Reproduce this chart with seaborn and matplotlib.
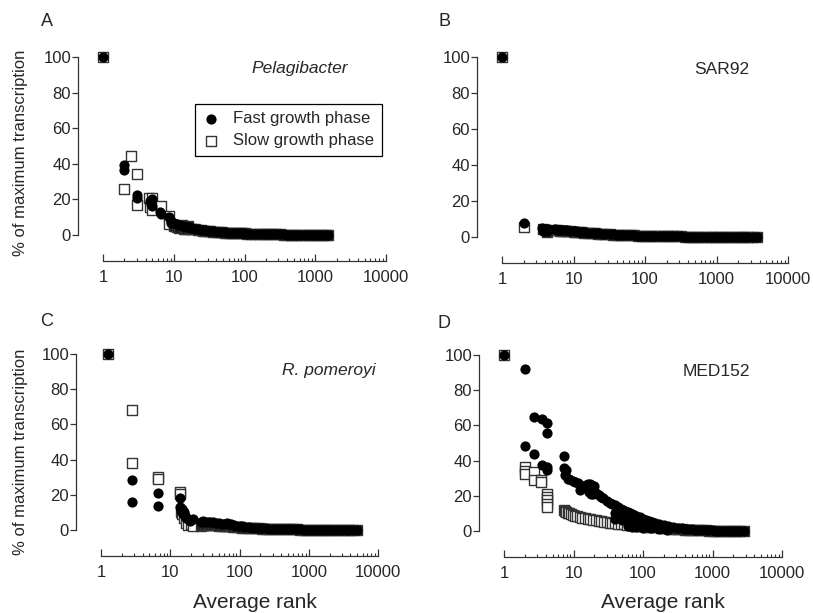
import matplotlib.pyplot as plt
import seaborn as sns
from matplotlib.ticker import NullFormatter

# estilo base, fuente tipo Arial
sns.set_style('ticks')
plt.rcParams['font.family'] = ['Liberation Sans', 'DejaVu Sans']

# --- datos: rango medio vs % de transcripcion maxima ---
# A: Pelagibacter (cabeza = puntos sueltos, cola = banda densa)
a_fast_head_rank = [1, 2, 2, 3, 3, 4.6, 4.8, 5, 5, 6.3, 6.6, 8.5, 9, 9]
a_fast_head_pct = [100, 39.5, 36.5, 22.5, 21, 19, 17.5, 20, 16.5, 13, 12, 10, 8, 6.5]
a_slow_head_rank = [1, 2, 2.5, 3, 3, 4.5, 5, 4.6, 5, 6.5, 8.5, 8.5]
a_slow_head_pct = [100, 26, 44.5, 34, 17, 21, 21, 16, 14, 16.5, 10.5, 6]
a_tail_rank = [10, 11, 12, 13, 14, 15, 16, 17, 18, 20,
               22, 24, 26, 28, 30, 33, 36, 40, 44, 48,
               53, 58, 64, 70, 77, 85, 93, 100, 110, 125,
               140, 160, 180, 200, 225, 250, 280, 320, 360, 400,
               450, 500, 560, 630, 710, 800, 900, 1000, 1120, 1260,
               1410, 1500]
a_fast_tail_pct = [6.5, 6.0, 5.6, 5.2, 4.9, 4.6, 4.4, 4.2, 4.0, 3.6,
                   3.3, 3.0, 2.8, 2.6, 2.4, 2.2, 2.0, 1.9, 1.7, 1.6,
                   1.5, 1.4, 1.3, 1.2, 1.1, 1.0, 0.95, 0.9, 0.8, 0.75,
                   0.7, 0.62, 0.55, 0.5, 0.45, 0.4, 0.36, 0.32, 0.29, 0.26,
                   0.23, 0.2, 0.18, 0.16, 0.14, 0.12, 0.1, 0.08, 0.06, 0.04,
                   0.02, 0.01]
a_slow_tail_pct = [5.0, 4.5, 4.0, 5.5, 3.5, 3.6, 5.0, 3.4, 3.5, 3.2,
                   2.9, 2.7, 2.5, 2.3, 2.1, 2.0, 1.8, 1.7, 1.6, 1.5,
                   1.4, 1.3, 1.2, 1.1, 1.0, 0.95, 0.9, 0.85, 0.75, 0.7,
                   0.65, 0.58, 0.52, 0.47, 0.42, 0.38, 0.34, 0.3, 0.27, 0.24,
                   0.21, 0.19, 0.17, 0.15, 0.13, 0.11, 0.09, 0.07, 0.05, 0.03,
                   0.02, 0.01]

# B: SAR92
b_fast_head_rank = [1, 2, 3.6, 4, 4.4, 3.8, 4.2]
b_fast_head_pct = [100, 7.7, 4.8, 4.5, 4.2, 3.2, 3.6]
b_slow_head_rank = [1, 2]
b_slow_head_pct = [100, 5.3]
b_slow_block_rank = [3.7, 4.1, 4.3]
b_slow_block_pct = [4.5, 4.0, 3.0]
b_tail_rank = [5.5, 6, 6.5, 7, 7.5, 8, 9, 10, 11, 12,
               13, 14, 16, 18, 20, 22, 25, 28, 32, 36,
               40, 45, 50, 56, 63, 70, 80, 90, 100, 112,
               125, 140, 160, 180, 200, 225, 250, 280, 320, 360,
               400, 450, 500, 560, 630, 710, 800, 900, 1000, 1120,
               1260, 1410, 1600, 1800, 2000, 2250, 2500, 2800, 3200, 3700]
b_fast_tail_pct = [4.2, 4.1, 4.0, 3.9, 3.8, 3.7, 3.5, 3.3, 3.1, 3.0,
                   2.8, 2.7, 2.5, 2.3, 2.1, 2.0, 1.85, 1.7, 1.55, 1.45,
                   1.35, 1.25, 1.15, 1.05, 0.95, 0.9, 0.8, 0.75, 0.7, 0.65,
                   0.6, 0.55, 0.5, 0.45, 0.42, 0.38, 0.35, 0.32, 0.29, 0.27,
                   0.25, 0.22, 0.2, 0.18, 0.16, 0.15, 0.13, 0.11, 0.1, 0.09,
                   0.08, 0.07, 0.06, 0.05, 0.04, 0.03, 0.02, 0.015, 0.01, 0]
b_slow_tail_pct = [3.8, 3.7, 3.6, 3.5, 3.4, 3.3, 3.1, 2.9, 2.8, 2.7,
                   2.6, 2.5, 2.3, 2.1, 2.0, 1.85, 1.7, 1.55, 1.4, 1.3,
                   1.2, 1.1, 1.0, 0.95, 0.9, 0.85, 0.75, 0.7, 0.65, 0.6,
                   0.55, 0.5, 0.45, 0.42, 0.4, 0.36, 0.33, 0.3, 0.28, 0.25,
                   0.22, 0.2, 0.18, 0.16, 0.14, 0.13, 0.12, 0.1, 0.09, 0.08,
                   0.07, 0.06, 0.05, 0.04, 0.03, 0.025, 0.02, 0.01, 0.005, 0]

# C: R. pomeroyi
c_fast_head_rank = [1.25, 2.77, 2.77, 6.7, 6.7, 13.9, 14, 14.5, 15, 15.5,
                    16, 16.5, 17, 18, 19, 20, 21]
c_fast_head_pct = [100, 28.4, 16.1, 20.8, 13.6, 18.4, 13, 11, 12, 9,
                   10.5, 8, 7, 6, 5, 5.5, 6]
c_slow_head_rank = [1.25, 2.77, 2.77, 6.7, 6.7, 13.9, 13.9, 14.2, 15, 16,
                    17, 18, 20, 21]
c_slow_head_pct = [100, 68.2, 38.3, 30.3, 29.2, 21.8, 20.5, 10, 9, 7,
                   4, 3, 3.5, 2.5]
c_tail_rank = [28, 30, 32, 35, 38, 42, 46, 50, 55, 60,
               65, 70, 75, 80, 90, 100, 110, 120, 135, 150,
               170, 190, 210, 240, 270, 300, 340, 380, 430, 480,
               540, 600, 680, 760, 850, 950, 1070, 1200, 1350, 1500,
               1700, 1900, 2100, 2400, 2700, 3000, 3400, 3800, 4300, 5000]
c_fast_tail_pct = [4.5, 5, 4.8, 4.6, 4.5, 4.3, 4.0, 3.8, 3.5, 3.5,
                   3.8, 3.5, 3.2, 3.0, 2.5, 2.2, 2.0, 1.8, 1.6, 1.4,
                   1.25, 1.1, 1.0, 0.9, 0.8, 0.7, 0.62, 0.55, 0.5, 0.45,
                   0.4, 0.36, 0.32, 0.29, 0.26, 0.23, 0.2, 0.18, 0.16, 0.14,
                   0.12, 0.1, 0.09, 0.07, 0.06, 0.05, 0.04, 0.03, 0.02, 0.01]
c_slow_tail_pct = [2.5, 3, 2.8, 3, 2.8, 2.7, 2.6, 2.5, 2.4, 2.3,
                   2.2, 2.1, 2.0, 1.9, 1.7, 1.5, 1.4, 1.3, 1.2, 1.1,
                   1.0, 0.9, 0.85, 0.8, 0.7, 0.62, 0.55, 0.5, 0.45, 0.4,
                   0.36, 0.32, 0.29, 0.26, 0.23, 0.2, 0.18, 0.16, 0.14, 0.12,
                   0.1, 0.09, 0.08, 0.06, 0.05, 0.04, 0.03, 0.02, 0.01, 0]

# D: MED152
d_fast_head_rank = [1, 2, 2, 2.74, 2.74, 3.5, 3.5, 4.17, 4.17, 4.17,
                    4.17, 7.3, 7.3, 7.5, 7.8, 8.2, 8.7, 9.7, 10.5, 11.5,
                    12.4, 12.4, 13.5, 15, 16, 17, 18, 19.5, 16.5, 18,
                    19, 20, 21, 23, 25, 27, 30, 33, 36, 40,
                    44, 48, 52, 56, 60, 65, 70, 75, 80, 90,
                    100, 110, 120, 135, 150, 170, 200, 230, 270, 320,
                    40, 40, 50, 50, 60, 60, 60, 70, 70, 70,
                    80, 80, 80, 100, 100, 100, 130, 130, 170, 170,
                    220, 220]
d_fast_head_pct = [100, 92, 48.4, 64.5, 43.6, 63.6, 37.4, 61.5, 55.4, 36.4,
                   34.5, 42.5, 36, 31.7, 34.5, 29.8, 29.5, 28.5, 28, 27.3,
                   26.1, 23.3, 25, 26, 26.5, 26.5, 26, 25.5, 22, 21,
                   20.8, 21.5, 21.6, 20.5, 19.5, 18.5, 17, 16, 15.5, 14.5,
                   13.5, 12.5, 12, 11.5, 10.8, 10, 9.5, 9, 8.5, 7.8,
                   7, 6.4, 5.8, 5.2, 4.6, 4, 3.2, 2.7, 2.2, 1.8,
                   10, 7, 9, 6, 8, 5.5, 3, 7, 4.5, 2.5,
                   6.5, 4, 2, 5, 3, 1.5, 3.5, 1.5, 2.5, 1.2,
                   1.8, 0.8]
d_fast_tail_rank = [360, 400, 450, 500, 560, 630, 710, 800, 900, 1000,
                    1120, 1260, 1410, 1600, 1800, 2000, 2250, 2500, 2800]
d_fast_tail_pct = [1.5, 1.3, 1.1, 0.95, 0.8, 0.7, 0.6, 0.5, 0.4, 0.32,
                   0.26, 0.2, 0.15, 0.11, 0.08, 0.05, 0.03, 0.015, 0]
d_slow_head_rank = [1, 2, 2, 2, 2.74, 2.74, 3.4, 3.4, 4.17, 4.17,
                    4.17, 4.17, 4.17, 7.2, 7.5, 7.8, 8.2, 8.6, 9.2, 9.8,
                    10.5, 11.3, 12.2, 13.2, 14.5, 16, 17.5, 19, 21, 23,
                    25, 27.5, 30, 33, 36, 40, 44, 48, 53, 58]
d_slow_head_pct = [100, 36.4, 34.2, 32.3, 33.6, 28.8, 28.8, 27.9, 21.3, 19.4,
                   17.5, 15.6, 13.7, 11.8, 11.2, 10.8, 10.4, 10, 9.5, 9,
                   8.7, 8.4, 8, 7.6, 7.2, 6.9, 6.6, 6.3, 6, 5.7,
                   5.4, 5.2, 5, 4.8, 4.6, 4.4, 4.2, 4, 3.8, 3.6]
d_slow_tail_rank = [64, 70, 80, 90, 100, 112, 125, 140, 160, 180,
                    200, 225, 250, 280, 320, 360, 400, 450, 500, 560,
                    630, 710, 800, 900, 1000, 1120, 1260, 1410, 1600, 1800,
                    2000, 2250, 2500, 2800]
d_slow_tail_pct = [3.4, 3.2, 3, 2.8, 2.6, 2.45, 2.3, 2.15, 2.0, 1.8,
                   1.6, 1.45, 1.3, 1.2, 1.1, 0.95, 0.8, 0.7, 0.6, 0.52,
                   0.45, 0.38, 0.32, 0.27, 0.23, 0.19, 0.16, 0.13, 0.1, 0.08,
                   0.06, 0.04, 0.02, 0]

x_ticks = [1, 10, 100, 1000, 10000]
x_tick_labels = ['1', '10', '100', '1000', '10000']
y_ticks = [0, 20, 40, 60, 80, 100]
y_tick_labels = ['0', '20', '40', '60', '80', '100']

fast_label = 'Fast growth phase'
slow_label = 'Slow growth phase'

W, H = 813, 613
fig = plt.figure(figsize=(W / 100, H / 100), dpi=100)


def px_axes(left, top, right, bottom):
    return fig.add_axes([left / W, 1 - bottom / H, (right - left) / W, (bottom - top) / H])


def draw_panel(ax, fx, fy, sx, sy, sx_dense, sy_dense):
    # cuadrados sueltos (blancos) y zona densa, donde los miles de cuadrados se ven negros
    sns.scatterplot(x=sx, y=sy, ax=ax, marker='s', s=44, color='white',
                    edgecolor='#333333', linewidth=1.0, clip_on=False, zorder=3)
    sns.scatterplot(x=sx_dense, y=sy_dense, ax=ax, marker='s', s=44, color='#141414',
                    edgecolor='#333333', linewidth=1.0, clip_on=False, zorder=3)
    sns.scatterplot(x=fx, y=fy, ax=ax, marker='o', s=54, color='black',
                    edgecolor='black', linewidth=0, clip_on=False, zorder=4)
    ax.set_xscale('log')
    ax.set_xlim(1, 10000)
    ax.set_ylim(0, 100)
    ax.set_xticks(x_ticks)
    ax.set_xticklabels(x_tick_labels)
    ax.xaxis.set_minor_formatter(NullFormatter())
    ax.set_yticks(y_ticks)
    ax.set_yticklabels(y_tick_labels)
    ax.set_xlabel('')
    ax.set_ylabel('')
    sns.despine(ax=ax)
    ax.spines['left'].set_position(('outward', 18))
    ax.spines['bottom'].set_position(('outward', 19))
    ax.spines['left'].set_bounds(0, 100)
    ax.spines['bottom'].set_bounds(1, 10000)
    for sp in ['left', 'bottom']:
        ax.spines[sp].set_color('#333333')
        ax.spines[sp].set_linewidth(0.9)
    ax.tick_params(axis='y', direction='out', length=4, width=0.9, color='#333333',
                   labelsize=12, pad=1)
    ax.tick_params(axis='x', which='major', direction='in', length=5, width=0.9,
                   color='#333333', labelsize=12, pad=6)
    ax.tick_params(axis='x', which='minor', direction='in', length=2.5, width=0.8,
                   color='#333333')


ax_a = px_axes(103, 57, 386, 235)
ax_b = px_axes(502, 57, 788, 237)
ax_c = px_axes(101, 354, 378, 530)
ax_d = px_axes(504, 355, 782, 531)

draw_panel(ax_a, a_fast_head_rank + a_tail_rank, a_fast_head_pct + a_fast_tail_pct,
           a_slow_head_rank, a_slow_head_pct, a_tail_rank, a_slow_tail_pct)
draw_panel(ax_b, b_fast_head_rank + b_tail_rank, b_fast_head_pct + b_fast_tail_pct,
           b_slow_head_rank, b_slow_head_pct,
           b_slow_block_rank + b_tail_rank, b_slow_block_pct + b_slow_tail_pct)
draw_panel(ax_c, c_fast_head_rank + c_tail_rank, c_fast_head_pct + c_fast_tail_pct,
           c_slow_head_rank, c_slow_head_pct, c_tail_rank, c_slow_tail_pct)
draw_panel(ax_d, d_fast_head_rank + d_fast_tail_rank, d_fast_head_pct + d_fast_tail_pct,
           d_slow_head_rank, d_slow_head_pct, d_slow_tail_rank, d_slow_tail_pct)

# leyenda solo en el panel A
h_slow, h_fast = ax_a.collections[0], ax_a.collections[2]
leg = ax_a.legend([h_fast, h_slow], [fast_label, slow_label], loc='upper left',
                  bbox_to_anchor=(195 / W, 1 - 104 / H), bbox_transform=fig.transFigure,
                  borderaxespad=0, fontsize=12, handlelength=1.0, handletextpad=0.85,
                  borderpad=0.45, labelspacing=0.4, fancybox=False, framealpha=1)
leg.get_frame().set_edgecolor('black')
leg.get_frame().set_linewidth(0.9)

# letras de panel, nombres de organismos y etiquetas de ejes
for letter, x, y in [('A', 47, 22), ('B', 444, 22), ('C', 47, 321), ('D', 444, 323)]:
    fig.text(x / W, 1 - y / H, letter, fontsize=13, ha='center', va='center')

fig.text(300 / W, 1 - 69 / H, 'Pelagibacter', fontsize=12.5, style='italic', ha='center', va='center')
fig.text(722 / W, 1 - 70 / H, 'SAR92', fontsize=12.5, ha='center', va='center')
fig.text(329 / W, 1 - 371 / H, 'R. pomeroyi', fontsize=12.5, style='italic', ha='center', va='center')
fig.text(716 / W, 1 - 371 / H, 'MED152', fontsize=12.5, ha='center', va='center')

for y in [153, 452]:
    fig.text(21 / W, 1 - y / H, '% of maximum transcription', fontsize=12,
             rotation=90, ha='center', va='center')
for x in [255, 663]:
    fig.text(x / W, 1 - 602 / H, 'Average rank', fontsize=15, ha='center', va='center')

fig.savefig('out.png', dpi=100)
